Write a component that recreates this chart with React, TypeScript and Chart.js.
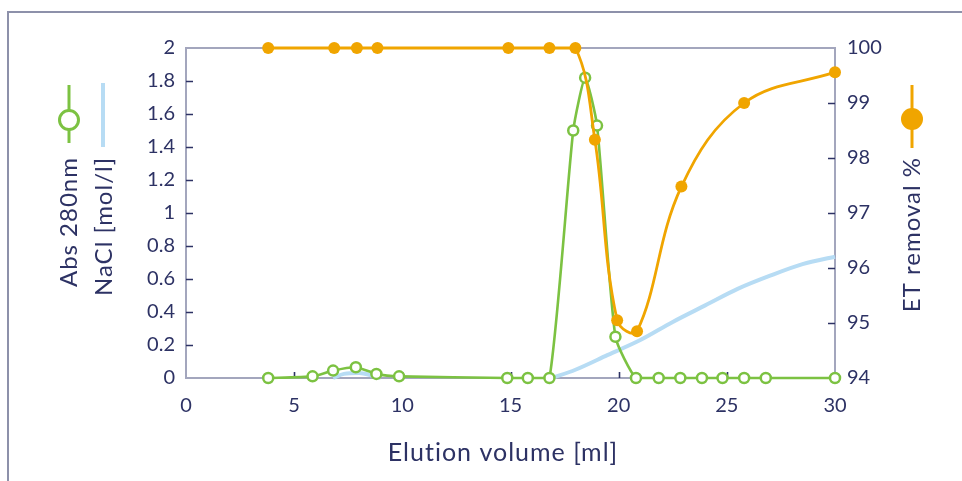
import React, { useEffect, useRef } from "react";
import { Chart, registerables } from "chart.js";

Chart.register(...registerables);

// ---- data ----
const absX = [3.8, 5.85, 6.8, 7.85, 8.8, 9.85, 14.85, 15.8, 16.8, 17.9, 18.45, 19.0, 19.85, 20.8, 21.85, 22.85, 23.85, 24.8, 25.8, 26.8, 30];
const absY = [0, 0.01, 0.045, 0.065, 0.025, 0.01, 0, 0, 0, 1.5, 1.82, 1.53, 0.25, 0, 0, 0, 0, 0, 0, 0, 0];

const naclX = [6.8, 7.3, 8.0, 8.6, 9.0, null, 16.9, 18.0, 19.5, 21.0, 22.5, 24.0, 25.5, 27.0, 28.5, 30];
const naclY = [0, 0.025, 0.03, 0.015, 0, null, 0, 0.05, 0.14, 0.23, 0.34, 0.44, 0.54, 0.62, 0.69, 0.735];

const etX = [3.8, 6.85, 7.9, 8.85, 14.9, 16.8, 18.0, 18.9, 19.93, 20.85, 22.9, 25.8, 30];
const etY = [100, 100, 100, 100, 100, 100, 100, 98.33, 95.05, 94.85, 97.48, 99.0, 99.56];

const xTickValues = [0, 5, 10, 15, 20, 25, 30];
const leftTickValues = [0, 0.2, 0.4, 0.6, 0.8, 1, 1.2, 1.4, 1.6, 1.8, 2];
const rightTickValues = [94, 95, 96, 97, 98, 99, 100];
const xTickMarks = [5, 10, 15, 20, 25];
const leftTickMarks = [0.2, 0.4, 0.6, 0.8, 1, 1.2, 1.4, 1.6, 1.8];
const rightTickMarks = [95, 96, 97, 98, 99];

const xTitle = "Elution volume [ml]";
const absLabel = "Abs 280nm";
const naclLabel = "NaCl [mol/l]";
const etLabel = "ET removal %";

// ---- styles ----
const NAVY = "#2d3264";
const AXIS = "#a3a6bd";
const GREEN = "#7cc242";
const ORANGE = "#f0a500";
const BLUE = "#b7dcf4";
const FONT = "Lato";

const W = 962;
const H = 481;

function pts(xs: (number | null)[], ys: (number | null)[]) {
  return xs.map((x, i) => ({ x: x as any, y: ys[i] as any }));
}

const decorPlugin = {
  id: "decor",
  beforeDatasetsDraw(chart: any) {
    const { ctx, chartArea, scales } = chart;
    const { left, right, top, bottom } = chartArea;
    ctx.save();
    ctx.strokeStyle = AXIS;
    ctx.lineWidth = 2;
    ctx.beginPath();
    ctx.moveTo(left, top);
    ctx.lineTo(right, top);
    ctx.stroke();
    ctx.strokeStyle = NAVY;
    ctx.lineWidth = 1.6;
    ctx.beginPath();
    xTickMarks.forEach((v) => {
      const px = Math.round(scales.x.getPixelForValue(v)) + 0.5;
      ctx.moveTo(px, bottom);
      ctx.lineTo(px, bottom - 6);
    });
    leftTickMarks.forEach((v) => {
      const py = Math.round(scales.y.getPixelForValue(v)) + 0.5;
      ctx.moveTo(left, py);
      ctx.lineTo(left + 7, py);
    });
    rightTickMarks.forEach((v) => {
      const py = Math.round(scales.y2.getPixelForValue(v)) + 0.5;
      ctx.moveTo(right, py);
      ctx.lineTo(right - 7, py);
    });
    ctx.stroke();
    ctx.restore();
  },
  afterDraw(chart: any) {
    const { ctx } = chart;
    ctx.save();
    ctx.fillStyle = NAVY;
    ctx.font = `25px ${FONT}`;
    (ctx as any).letterSpacing = "1px";
    ctx.textAlign = "center";
    ctx.textBaseline = "middle";
    ctx.fillText(xTitle, 503, 453);

    ctx.lineCap = "butt";
    ctx.strokeStyle = GREEN;
    ctx.lineWidth = 3;
    ctx.beginPath();
    ctx.moveTo(69, 85);
    ctx.lineTo(69, 143);
    ctx.stroke();
    ctx.beginPath();
    ctx.arc(69, 120, 9.5, 0, Math.PI * 2);
    ctx.fillStyle = "#ffffff";
    ctx.fill();
    ctx.stroke();

    ctx.strokeStyle = BLUE;
    ctx.lineWidth = 4;
    ctx.beginPath();
    ctx.moveTo(103, 83);
    ctx.lineTo(103, 147);
    ctx.stroke();

    ctx.strokeStyle = ORANGE;
    ctx.lineWidth = 3;
    ctx.beginPath();
    ctx.moveTo(912, 85);
    ctx.lineTo(912, 148);
    ctx.stroke();
    ctx.beginPath();
    ctx.arc(912, 119, 11, 0, Math.PI * 2);
    ctx.fillStyle = ORANGE;
    ctx.fill();

    ctx.fillStyle = NAVY;
    ctx.font = `24px ${FONT}`;
    (ctx as any).letterSpacing = "1px";
    ctx.textAlign = "right";
    ctx.textBaseline = "middle";
    const rot = (text: string, x: number, y: number) => {
      ctx.save();
      ctx.translate(x, y);
      ctx.rotate(-Math.PI / 2);
      ctx.fillText(text, 0, 0);
      ctx.restore();
    };
    rot(absLabel, 69, 157);
    rot(naclLabel, 104, 157);
    rot(etLabel, 912, 157);
    ctx.restore();
  },
};

function fmt(v: number) {
  return String(Math.round(v * 10) / 10);
}

export default function App() {
  const ref = useRef<HTMLCanvasElement | null>(null);

  useEffect(() => {
    let chart: Chart | null = null;
    let cancelled = false;
    const make = () => {
      if (cancelled || !ref.current) return;
      chart = new Chart(ref.current, {
        type: "line",
        data: {
          datasets: [
            {
              label: naclLabel,
              data: pts(naclX, naclY),
              yAxisID: "y",
              borderColor: BLUE,
              borderWidth: 4,
              pointRadius: 0,
              cubicInterpolationMode: "monotone",
              spanGaps: false,
              clip: false as any,
              order: 3,
            },
            {
              label: absLabel,
              data: pts(absX, absY),
              yAxisID: "y",
              borderColor: GREEN,
              borderWidth: 2.6,
              pointRadius: 5,
              pointBorderWidth: 2.5,
              pointBackgroundColor: "#ffffff",
              pointBorderColor: GREEN,
              tension: 0.18,
              clip: false as any,
              order: 2,
            },
            {
              label: etLabel,
              data: pts(etX, etY),
              yAxisID: "y2",
              borderColor: ORANGE,
              borderWidth: 2.8,
              pointRadius: 6,
              pointBorderWidth: 0,
              pointBackgroundColor: ORANGE,
              pointBorderColor: ORANGE,
              tension: 0.38,
              clip: false as any,
              order: 1,
            },
          ],
        },
        options: {
          responsive: false,
          animation: false,
          layout: { padding: { top: 48, left: 0, right: 0, bottom: 0 } },
          plugins: {
            legend: { display: false },
            tooltip: { enabled: false },
            title: { display: false },
          },
          scales: {
            x: {
              type: "linear",
              min: 0,
              max: 30,
              afterFit: (s: any) => {
                s.height = 103;
              },
              afterBuildTicks: (s: any) => {
                s.ticks = xTickValues.map((v) => ({ value: v }));
              },
              grid: { display: true, drawOnChartArea: false, drawTicks: false },
              border: { display: true, color: AXIS, width: 2 },
              ticks: {
                color: NAVY,
                font: { family: FONT, size: 20 },
                padding: 16,
                maxRotation: 0,
                autoSkip: false,
                callback: (v: any) => fmt(Number(v)),
              },
            },
            y: {
              type: "linear",
              position: "left",
              min: 0,
              max: 2,
              afterFit: (s: any) => {
                s.width = 186;
              },
              afterBuildTicks: (s: any) => {
                s.ticks = leftTickValues.map((v) => ({ value: v }));
              },
              grid: { display: true, drawOnChartArea: false, drawTicks: false },
              border: { display: true, color: AXIS, width: 2 },
              ticks: {
                color: NAVY,
                font: { family: FONT, size: 20 },
                padding: 11,
                autoSkip: false,
                callback: (v: any) => fmt(Number(v)),
              },
            },
            y2: {
              type: "linear",
              position: "right",
              min: 94,
              max: 100,
              afterFit: (s: any) => {
                s.width = W - 835;
              },
              afterBuildTicks: (s: any) => {
                s.ticks = rightTickValues.map((v) => ({ value: v }));
              },
              grid: { display: true, drawOnChartArea: false, drawTicks: false },
              border: { display: true, color: AXIS, width: 2 },
              ticks: {
                color: NAVY,
                font: { family: FONT, size: 20 },
                padding: 12,
                autoSkip: false,
                callback: (v: any) => fmt(Number(v)),
              },
            },
          },
        },
        plugins: [decorPlugin],
      } as any);
    };
    const fontsAny = (document as any).fonts;
    if (fontsAny && fontsAny.load) {
      Promise.all([fontsAny.load(`20px ${FONT}`), fontsAny.load(`25px ${FONT}`)])
        .catch(() => undefined)
        .then(make);
    } else {
      make();
    }
    return () => {
      cancelled = true;
      if (chart) chart.destroy();
    };
  }, []);

  return (
    <div
      style={{
        position: "fixed",
        left: 0,
        top: 0,
        width: W,
        height: H,
        background: "#ffffff",
        overflow: "hidden",
      }}
    >
      <div
        style={{
          position: "absolute",
          left: 7,
          top: 11,
          width: W,
          height: H,
          borderLeft: "2px solid #8d91aa",
          borderTop: "2px solid #8d91aa",
        }}
      />
      <canvas
        ref={ref}
        width={W}
        height={H}
        style={{ position: "absolute", left: 0, top: 0, width: W, height: H }}
      />
    </div>
  );
}
